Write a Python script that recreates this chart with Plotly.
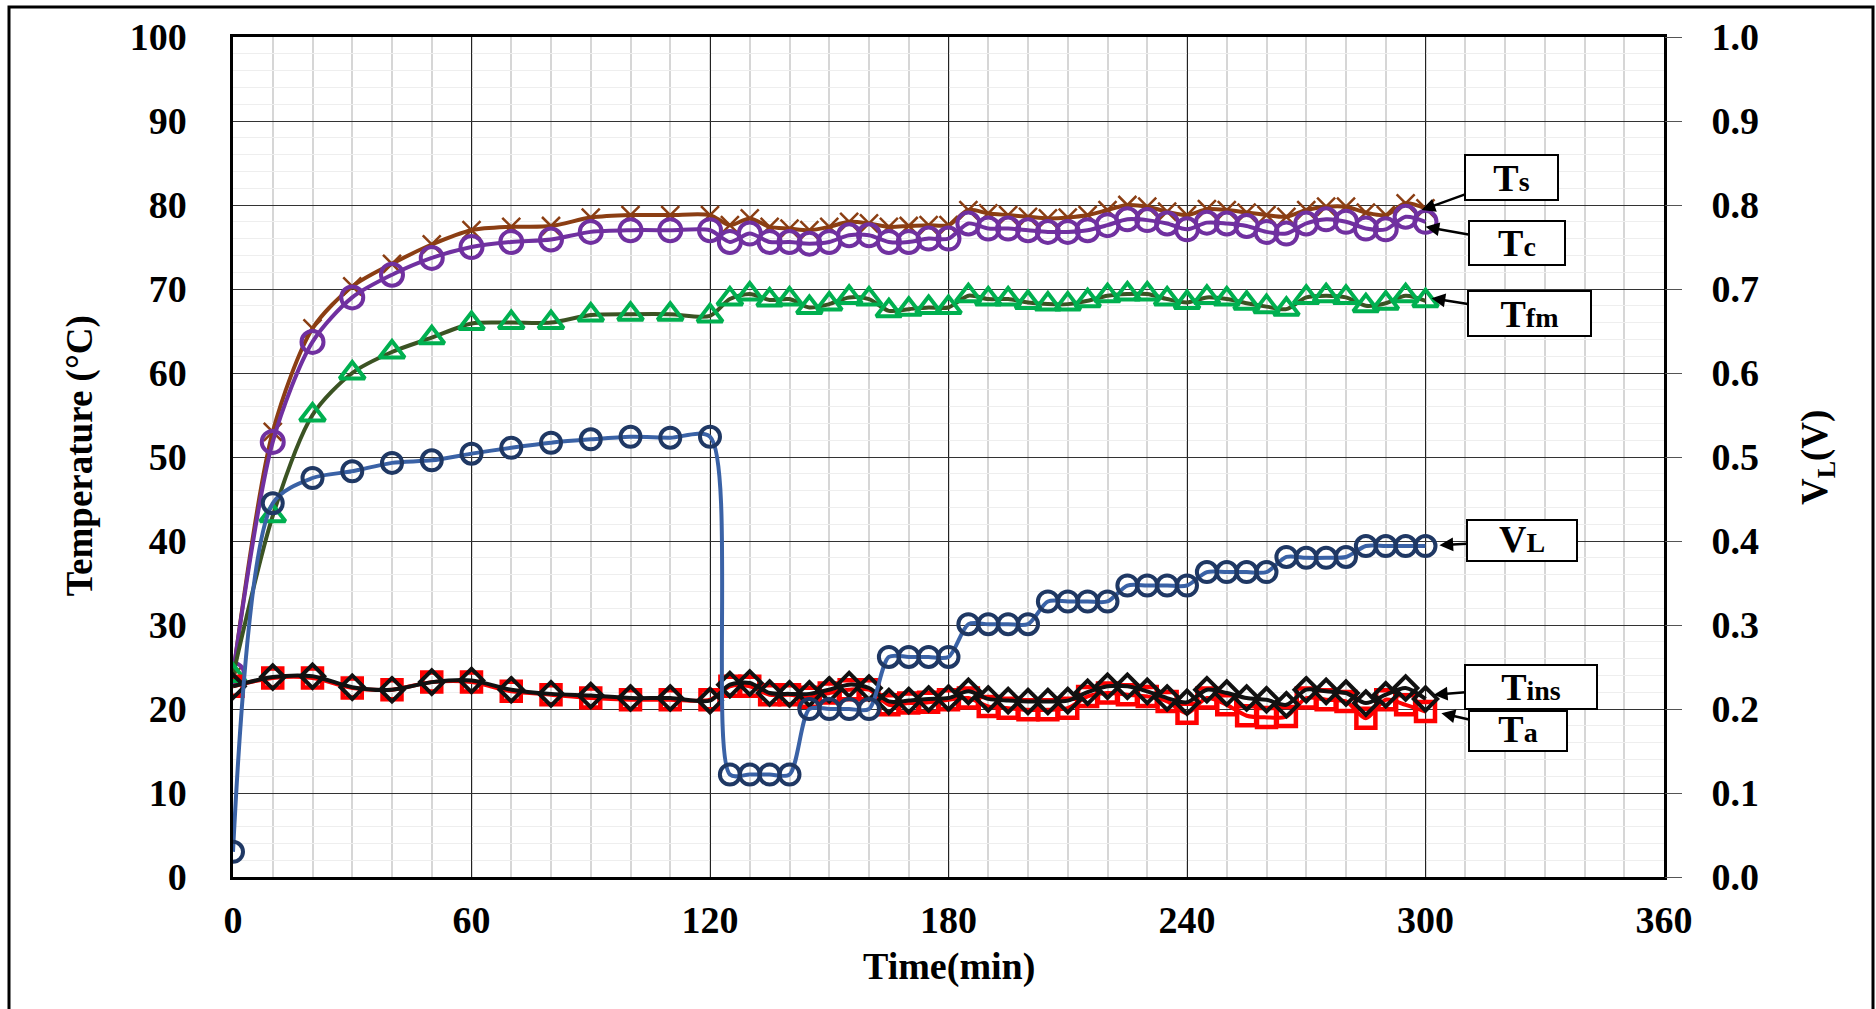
import plotly.graph_objects as go

time_min = [0, 10, 20, 30, 40, 50, 60, 70, 80, 90, 100, 110, 120,
            125, 130, 135, 140, 145, 150, 155, 160, 165, 170, 175, 180,
            185, 190, 195, 200, 205, 210, 215, 220, 225, 230, 235, 240,
            245, 250, 255, 260, 265, 270, 275, 280, 285, 290, 295, 300]

Ts = [24.0, 53.0, 65.3, 70.3, 73.0, 75.3, 77.0, 77.4, 77.5, 78.5, 78.8, 78.8, 78.8,
      77.6, 78.4, 77.4, 77.2, 77.0, 77.4, 78.0, 77.8, 77.4, 77.5, 77.6, 77.6,
      79.4, 79.0, 78.8, 78.6, 78.4, 78.5, 78.8, 79.4, 80.0, 79.8, 79.2, 78.8,
      79.5, 79.4, 79.1, 78.8, 78.6, 79.4, 79.8, 79.8, 79.1, 78.8, 80.2, 79.6]

Tc = [24.2, 51.8, 63.7, 69.0, 71.7, 73.7, 75.0, 75.6, 75.9, 76.8, 77.0, 77.0, 77.0,
      75.6, 76.6, 75.6, 75.6, 75.4, 75.6, 76.4, 76.4, 75.6, 75.6, 76.0, 76.0,
      77.8, 77.2, 77.2, 77.0, 76.8, 76.8, 77.0, 77.6, 78.3, 78.2, 77.8, 77.1,
      77.9, 77.8, 77.5, 76.8, 76.6, 77.8, 78.3, 78.0, 77.2, 77.1, 78.6, 78.0]

Tfm = [24.0, 43.0, 55.0, 60.0, 62.5, 64.2, 65.9, 66.0, 66.0, 66.9, 67.0, 67.0, 66.8,
       68.8, 69.4, 68.7, 68.8, 67.8, 68.2, 69.0, 68.8, 67.4, 67.6, 67.8, 67.8,
       69.2, 68.8, 68.8, 68.4, 68.2, 68.2, 68.6, 69.2, 69.4, 69.4, 68.8, 68.4,
       69.0, 68.8, 68.3, 67.9, 67.6, 69.0, 69.2, 69.0, 68.0, 68.3, 69.2, 68.6]

VL = [0.030, 0.445, 0.475, 0.483, 0.493, 0.496, 0.504, 0.511, 0.517, 0.521, 0.524, 0.523, 0.524,
      0.122, 0.122, 0.122, 0.122, 0.200, 0.200, 0.200, 0.200, 0.262, 0.262, 0.262, 0.262,
      0.301, 0.301, 0.301, 0.301, 0.328, 0.328, 0.328, 0.328, 0.347, 0.347, 0.347, 0.347,
      0.363, 0.363, 0.363, 0.363, 0.381, 0.380, 0.380, 0.381, 0.394, 0.394, 0.394, 0.394]

Tins = [22.7, 23.8, 23.9, 22.6, 22.3, 23.2, 23.4, 22.3, 21.8, 21.6, 21.3, 21.3, 21.0,
        22.9, 23.1, 21.9, 21.8, 21.8, 22.3, 22.9, 22.5, 20.9, 21.0, 21.2, 21.3,
        22.1, 21.2, 21.0, 20.9, 20.9, 21.0, 22.0, 22.7, 22.7, 22.1, 21.3, 20.8,
        22.3, 21.9, 21.3, 21.1, 20.5, 22.3, 22.1, 21.9, 20.7, 21.7, 22.5, 21.2]

Ta = [22.7, 23.7, 23.7, 22.5, 22.3, 23.2, 23.2, 22.1, 21.7, 21.3, 21.1, 21.1, 21.1,
      22.7, 22.7, 21.7, 21.7, 21.4, 21.9, 22.3, 22.3, 20.5, 20.7, 20.8, 21.1,
      21.3, 20.3, 20.1, 19.9, 19.9, 20.1, 21.5, 21.9, 21.7, 21.5, 20.9, 19.5,
      21.3, 20.5, 19.2, 19.0, 19.1, 21.3, 21.1, 20.9, 18.9, 21.1, 20.5, 19.7]

x_ticks = [0, 60, 120, 180, 240, 300, 360]
y_ticks = [0, 10, 20, 30, 40, 50, 60, 70, 80, 90, 100]
y2_ticks = [0.0, 0.1, 0.2, 0.3, 0.4, 0.5, 0.6, 0.7, 0.8, 0.9, 1.0]

FONT = "Liberation Serif"

fig = go.Figure()

def add(y, name, line_color, mk_symbol, mk_color, mk_size, mk_lw, lw=4, axis="y"):
    fig.add_trace(go.Scatter(
        x=time_min, y=y, name=name, mode="lines+markers", yaxis=axis,
        line=dict(color=line_color, width=lw, shape="spline", smoothing=0.8),
        marker=dict(symbol=mk_symbol, size=mk_size, color=mk_color,
                    line=dict(color=mk_color, width=mk_lw)),
        showlegend=False))

add(Ts, "Ts", "#8B3E13", "x-thin", "#8B3E13", 18, 2.5)
add(Tc, "Tc", "#7030A0", "circle-open", "#7030A0", 22, 4)
add(Tfm, "Tfm", "#3B5323", "triangle-up-open", "#00B050", 22, 4)
add(Ta, "Ta", "#FF0000", "square-open", "#FF0000", 19, 4.5)
add(Tins, "Tins", "#111111", "diamond-open", "#111111", 18, 4)
add(VL, "VL", "#3A62A6", "circle-open", "#1F3864", 20, 4, axis="y2")

tick_font = dict(family=FONT, size=38, color="black", weight="bold")

fig.update_layout(
    width=1876, height=1009,
    margin=dict(l=233, r=212, t=37, b=132),
    paper_bgcolor="white", plot_bgcolor="white",
    font=dict(family=FONT, color="black"),
    xaxis=dict(range=[0, 360], tickvals=x_ticks, ticktext=[str(v) for v in x_ticks],
               showgrid=True, gridcolor="#222222", gridwidth=1,
               minor=dict(dtick=10, showgrid=True, gridcolor="#d6d6d6", gridwidth=1.5),
               showline=True, linecolor="black", linewidth=2.5, mirror=True,
               zeroline=False, ticks="", tickfont=tick_font, ticklabelstandoff=8),
    yaxis=dict(range=[0, 100], tickvals=y_ticks, ticktext=[str(v) for v in y_ticks],
               showgrid=True, gridcolor="#333333", gridwidth=1,
               minor=dict(dtick=2, showgrid=True, gridcolor="#eeeeee", gridwidth=1),
               showline=True, linecolor="black", linewidth=2.5, mirror=True,
               zeroline=False, ticks="", tickfont=tick_font, ticklabelstandoff=36),
    yaxis2=dict(range=[0, 1], tickvals=y2_ticks, ticktext=[f"{v:.1f}" for v in y2_ticks],
                overlaying="y", side="right", showgrid=False, zeroline=False,
                ticks="outside", ticklen=17, tickcolor="#555555", tickwidth=1,
                tickfont=tick_font, ticklabelstandoff=22),
)

# axis titles
fig.add_annotation(text="<b>Temperature (°C)</b>", xref="paper", yref="paper",
                   x=-0.1069, y=0.501, showarrow=False, textangle=-90,
                   xanchor="center", yanchor="middle",
                   font=dict(family=FONT, size=37, color="black"))
fig.add_annotation(text="<b>V<sub>L</sub>(V)</b>", xref="paper", yref="paper",
                   x=1.1069, y=0.5, showarrow=False, textangle=-90,
                   xanchor="center", yanchor="middle",
                   font=dict(family=FONT, size=37, color="black"))
fig.add_annotation(text="<b>Time(min)</b>", xref="paper", yref="paper",
                   x=0.5003, y=-0.107, showarrow=False,
                   xanchor="center", yanchor="middle",
                   font=dict(family=FONT, size=38, color="black"))

def label(big, small, x, y, ax, ay, w, h):
    txt = f"<b>{big}<span style='font-size:28px'>{small}</span></b>"
    fig.add_annotation(text=txt, x=x, y=y, xref="x", yref="y",
                       ax=ax, ay=ay, axref="pixel", ayref="pixel",
                       showarrow=True, arrowhead=2, arrowsize=1.1, arrowwidth=2.5,
                       arrowcolor="black", bgcolor="white", bordercolor="black",
                       borderwidth=2, borderpad=0, width=w - 4, height=h - 4,
                       align="center", valign="bottom",
                       font=dict(family=FONT, size=38, color="black"))

label("T", "s", 299.0, 79.4, 90, -32.5, 95, 47)
label("T", "c", 300.0, 77.4, 91, 16, 98, 46)
label("T", "fm", 301.5, 68.9, 98, 15.5, 125, 47)
label("V", "L", 303.5, 39.5, 82.5, -4.5, 112, 43)
label("T", "ins", 302.1, 21.7, 97.6, -8, 134, 46)
label("T", "a", 304.0, 19.5, 76.6, 17.7, 100, 42)

# outer frame
fig.add_shape(type="rect", xref="paper", yref="paper",
              x0=(9 - 233) / 1431, x1=(1873 - 233) / 1431,
              y0=(877 - 1030) / 840, y1=(877 - 7) / 840,
              line=dict(color="black", width=3), fillcolor="rgba(0,0,0,0)", layer="below")

fig.write_html("out.html", config={"displayModeBar": False},
               post_script="document.body.style.margin='0';document.body.style.overflow='hidden';")
